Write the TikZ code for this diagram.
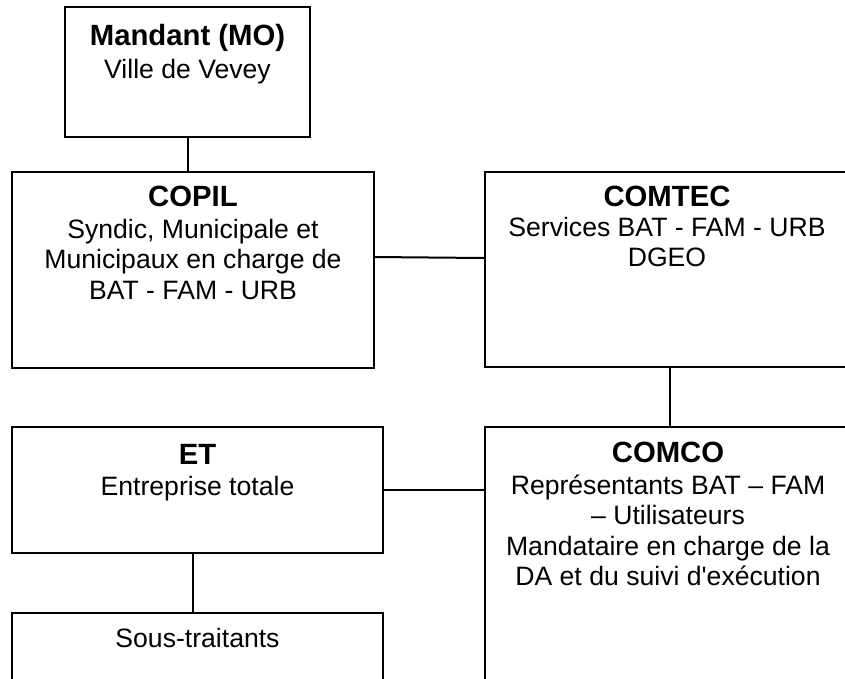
\documentclass[tikz,border=0pt]{standalone}
\usepackage{fontspec}
\setmainfont{Liberation Sans}[Ligatures=TeXOff]
\begin{document}
\begin{tikzpicture}[x=1pt,y=-1pt,
  box/.style={draw, line width=2pt, rectangle, inner sep=0pt},
  title/.style={font=\fontsize{29.3}{33}\selectfont\bfseries, anchor=base, inner sep=0pt},
  body/.style={font=\fontsize{26.6}{30.5}\selectfont, align=center, anchor=base, inner sep=0pt},
  link/.style={line width=2pt}]
\useasboundingbox (0,0) rectangle (845,678);
\fill[white] (0,0) rectangle (845,678);
\begin{scope}
\clip (0,0) rectangle (845,678);
% boxes
\node[box, minimum width=245pt, minimum height=130pt] (mandant) at (187.5,72) {};
\node[box, minimum width=362pt, minimum height=196pt] (copil) at (193,270) {};
\node[box, minimum width=366pt, minimum height=195pt] (comtec) at (668,269.5) {};
\node[box, minimum width=371pt, minimum height=126pt] (et) at (197.5,490) {};
\node[box, minimum width=366pt, minimum height=263pt] (comco) at (668,558.5) {};
\node[box, minimum width=371pt, minimum height=77pt] (sous) at (197.5,651.5) {};
% texts (base anchor = baseline of last line)
\node[title] (tmandant) at (187.5,45) {Mandant (MO)};
\node[body] (bmandant) at (187.5,78) {Ville de Vevey};
\node[title] (tcopil) at (193,206) {COPIL};
\node[body] (bcopil) at (193,299) {Syndic, Municipale et\\Municipaux en charge de\\BAT - FAM - URB};
\node[title] (tcomtec) at (667,206) {COMTEC};
\node[body] (bcomtec) at (667,266.5) {Services BAT - FAM - URB\\DGEO};
\node[title] (tet) at (197.5,464) {ET};
\node[body] (bet) at (197.5,495) {Entreprise totale};
\node[title] (tcomco) at (668,462) {COMCO};
\node[body] (bcomco) at (668,585.5) {Représentants BAT – FAM\\– Utilisateurs\\Mandataire en charge de la\\DA et du suivi d'exécution};
\node[body] (bsous) at (197.5,647) {Sous-traitants};
% connectors
\draw[link] (mandant.south) -- (mandant.south |- copil.north);
\draw[link] ([yshift=13pt]copil.east) -- ([yshift=11.5pt]comtec.west);
\draw[link] ([xshift=1.5pt]comtec.south) -- ([xshift=1.5pt]comtec.south |- comco.north);
\draw[link] (et.east) -- (et.east -| comco.west);
\draw[link] ([xshift=-4.5pt]et.south) -- ([xshift=-4.5pt]et.south |- sous.north);
\end{scope}
\end{tikzpicture}
\end{document}
